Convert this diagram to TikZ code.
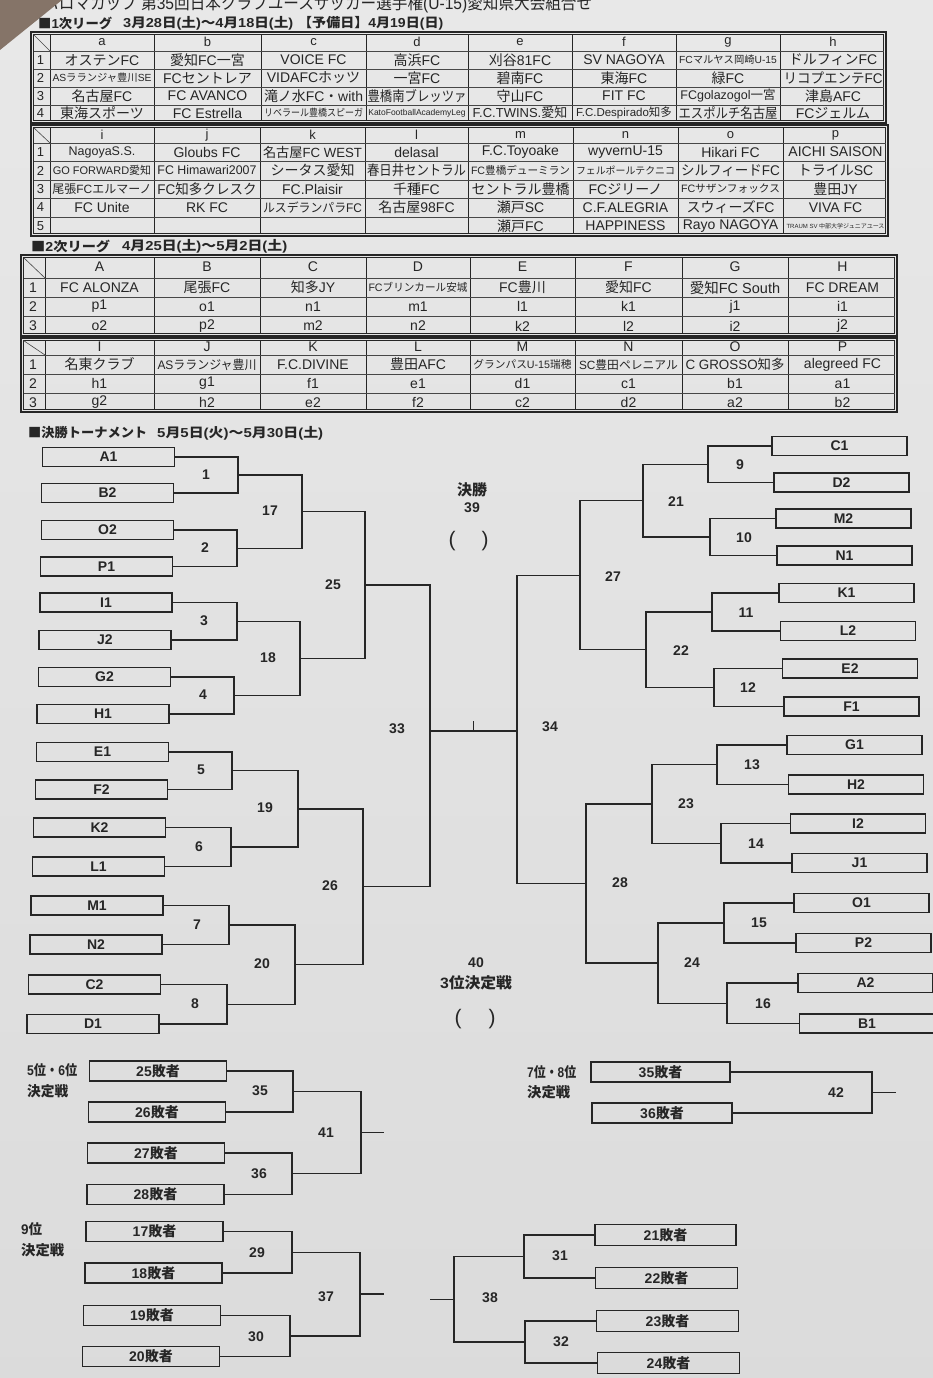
\documentclass[tikz,border=0pt]{standalone}
\usepackage{fontspec}
\usepackage{graphicx}
\setmainfont{Liberation Sans}
\newfontfamily\cjkfont{Noto Sans CJK JP}
\newfontfamily\latinfont{Liberation Sans}
\XeTeXinterchartokenstate=1
\newXeTeXintercharclass\cjkclass
\newcount\cjkcnt
\cjkcnt="3000
\loop
  \XeTeXcharclass\cjkcnt=\cjkclass
  \advance\cjkcnt by 1
\ifnum\cjkcnt<"A000 \repeat
\cjkcnt="FF00
\loop
  \XeTeXcharclass\cjkcnt=\cjkclass
  \advance\cjkcnt by 1
\ifnum\cjkcnt<"FFF0 \repeat
\XeTeXcharclass"25A0=\cjkclass
\XeTeXinterchartoks 0 \cjkclass={\cjkfont}
\XeTeXinterchartoks 4095 \cjkclass={\cjkfont}
\XeTeXinterchartoks \cjkclass 0={\latinfont}
\XeTeXinterchartoks \cjkclass 4095={\latinfont}
\newsavebox\fitsb
\newcommand\fitmax[2]{\sbox\fitsb{#2}\ifdim\wd\fitsb>#1\relax\resizebox{#1}{\ht\fitsb}{\usebox\fitsb}\else\usebox\fitsb\fi}
\newcommand\fitexact[2]{\sbox\fitsb{#2}\resizebox{#1}{\ht\fitsb}{\usebox\fitsb}}
\newcommand\myfs[1]{\fontsize{#1}{#1}\selectfont}
\newcommand\tcell[5][14]{\node[ct] (#2) at (#3,#4) {\myfs{#1}\fitmax{99pt}{#5}};}
\definecolor{ink}{HTML}{262626}
\definecolor{wood}{HTML}{857468}
\begin{document}
\begin{tikzpicture}[x=1pt,y=-1pt,
 ct/.style={inner sep=0pt, text=ink, anchor=center},
 tout/.style={draw=ink, line width=1.3pt},
 tinn/.style={draw=ink, line width=0.6pt},
 tcol/.style={draw=ink, line width=1pt},
 trow/.style={draw=ink!85, line width=0.6pt},
 tmbox/.style={draw=ink, line width=1.5pt, minimum width=132pt, minimum height=19pt, inner sep=0pt, text=ink, font=\myfs{14}\bfseries},
 rtbox/.style={tmbox, minimum width=135pt},
 lsbox/.style={tmbox, minimum width=137pt, minimum height=20pt},
 bl/.style={draw=ink, line width=1.3pt},
 num/.style={inner sep=0pt, text=ink, font=\myfs{14}\bfseries},
 lab/.style={inner sep=0pt, text=ink, font=\myfs{14}\bfseries},
 hd/.style={inner sep=0pt, text=ink, font=\myfs{13}\bfseries, anchor=west},
]
\useasboundingbox (0,0) rectangle (933,1378);
\shade[top color=black!9, bottom color=black!14] (0,0) rectangle (933,1378);

% title and headings
\node[inner sep=0pt, anchor=base west, text=ink] (title) at (43,10) {\myfs{17}\fitexact{549pt}{パロマカップ 第35回日本クラブユースサッカー選手権(U-15)愛知県大会組合せ}};
\fill[wood] (0,0) -- (62,0) -- (0,50) -- cycle;
\node[hd] (h1a) at (38,23) {\fitexact{74pt}{■1次リーグ}};
\node[hd] (h1b) at (123,23) {\fitexact{170pt}{3月28日(土)～4月18日(土)}};
\node[hd] (h1c) at (298,23) {\fitexact{145pt}{【予備日】4月19日(日)}};
\node[hd] (h2a) at (31,246) {\fitexact{79pt}{■2次リーグ}};
\node[hd] (h2b) at (122,246) {\fitexact{165pt}{4月25日(土)～5月2日(土)}};
\node[hd] (h3a) at (28,433) {\fitexact{119pt}{■決勝トーナメント}};
\node[hd] (h3b) at (157,433) {\fitexact{166pt}{5月5日(火)～5月30日(土)}};

% ===== table 1, part 1 =====
\draw[tout] (31,32) rectangle (886,123);
\draw[tinn] (33.5,34.5) rectangle (883.5,120.5);
\foreach \x in {50,154,261,366,468,572,676,780} \draw[tcol] (\x,34.5) -- (\x,120.5);
\foreach \y in {51,69,87,105} \draw[trow] (33.5,\y) -- (883.5,\y);
\draw[trow] (33.5,34.5) -- (50,51);
% ===== table 1, part 2 =====
\draw[tout] (31,125) rectangle (888,236);
\draw[tinn] (33.5,127.5) rectangle (885.5,233.5);
\foreach \x in {50,154,260,365,468,573,678,783} \draw[tcol] (\x,127.5) -- (\x,233.5);
\foreach \y in {143,161.5,180,198.5,217} \draw[trow] (33.5,\y) -- (885.5,\y);
\draw[trow] (33.5,127.5) -- (50,143);
% ===== table 2 =====
\draw[tout] (21,255) rectangle (897,336);
\draw[tinn] (23.5,257.5) rectangle (894.5,333.5);
\foreach \x in {45,154,260,366,470,575,682,788} \draw[tcol] (\x,257.5) -- (\x,333.5);
\foreach \y in {278,297,316} \draw[trow] (23.5,\y) -- (894.5,\y);
\draw[trow] (23.5,257.5) -- (45,278);
\draw[tout] (21,338) rectangle (897,412);
\draw[tinn] (23.5,340.5) rectangle (894.5,409.5);
\foreach \x in {45,154,260,366,470,575,682,788} \draw[tcol] (\x,340.5) -- (\x,409.5);
\foreach \y in {355,374,393} \draw[trow] (23.5,\y) -- (894.5,\y);
\draw[trow] (23.5,340.5) -- (45,355);

% table 1 part 1 texts
\tcell[13]{h1ha}{102}{42}{a}\tcell[13]{h1hb}{207.5}{42}{b}\tcell[13]{h1hc}{313.5}{42}{c}\tcell[13]{h1hd}{417}{42}{d}
\tcell[13]{h1he}{520}{42}{e}\tcell[13]{h1hf}{624}{42}{f}\tcell[13]{h1hg}{728}{42}{g}\tcell[13]{h1hh}{833}{42}{h}
\tcell[13]{r1n1}{40.5}{60}{1}\tcell[13]{r1n2}{40.5}{78}{2}\tcell[13]{r1n3}{40.5}{96}{3}\tcell[13]{r1n4}{40.5}{113}{4}
\tcell{a1}{102}{60}{オステンFC}
\tcell[10.3]{a2}{102}{78}{ASラランジャ豊川SE}
\tcell{a3}{102}{96}{名古屋FC}
\tcell{a4}{102}{113}{東海スポーツ}
\tcell{b1}{207.5}{60}{愛知FC一宮}
\tcell{b2}{207.5}{78}{FCセントレア}
\tcell{b3}{207.5}{96}{FC AVANCO}
\tcell{b4}{207.5}{113}{FC Estrella}
\tcell{c1}{313.5}{60}{VOICE FC}
\tcell{c2}{313.5}{78}{VIDAFCホッツ}
\tcell{c3}{313.5}{96}{滝ノ水FC・with}
\tcell[10]{c4}{313.5}{113}{リベラール豊橋スピーガ}
\tcell{d1}{417}{60}{高浜FC}
\tcell{d2}{417}{78}{一宮FC}
\tcell{d3}{417}{96}{豊橋南ブレッツァ}
\tcell[8.5]{d4}{417}{113}{KatoFootballAcademyLeg}
\tcell{e1}{520}{60}{刈谷81FC}
\tcell{e2}{520}{78}{碧南FC}
\tcell{e3}{520}{96}{守山FC}
\tcell[13]{e4}{520}{113}{F.C.TWINS.愛知}
\tcell{f1}{624}{60}{SV NAGOYA}
\tcell{f2}{624}{78}{東海FC}
\tcell{f3}{624}{96}{FIT FC}
\tcell[11.5]{f4}{624}{113}{F.C.Despirado知多}
\tcell[10.3]{g1}{728}{60}{FCマルヤス岡崎U-15}
\tcell{g2}{728}{78}{緑FC}
\tcell[12.5]{g3}{728}{96}{FCgolazogol一宮}
\tcell{g4}{728}{113}{エスポルチ名古屋}
\tcell{h1}{833}{60}{ドルフィンFC}
\tcell{h2}{833}{78}{リコプエンテFC}
\tcell{h3}{833}{96}{津島AFC}
\tcell{h4}{833}{113}{FCジェルム}

% table 1 part 2 texts
\tcell[13]{h1hi}{102}{135}{i}\tcell[13]{h1hj}{207}{135}{j}\tcell[13]{h1hk}{312.5}{135}{k}\tcell[13]{h1hl}{416.5}{135}{l}
\tcell[13]{h1hm}{520.5}{135}{m}\tcell[13]{h1hn}{625.5}{135}{n}\tcell[13]{h1ho}{730.5}{135}{o}\tcell[13]{h1hp}{835.5}{135}{p}
\tcell[13]{r2n1}{40.5}{152}{1}\tcell[13]{r2n2}{40.5}{170.5}{2}\tcell[13]{r2n3}{40.5}{189}{3}\tcell[13]{r2n4}{40.5}{207.5}{4}\tcell[13]{r2n5}{40.5}{226}{5}
\tcell[12.5]{i1}{102}{152}{NagoyaS.S.}
\tcell[11]{i2}{102}{170.5}{GO FORWARD愛知}
\tcell[12]{i3}{102}{189}{尾張FCエルマーノ}
\tcell{i4}{102}{207.5}{FC Unite}
\tcell{j1}{207}{152}{Gloubs FC}
\tcell[12.5]{j2}{207}{170.5}{FC Himawari2007}
\tcell{j3}{207}{189}{FC知多クレスク}
\tcell{j4}{207}{207.5}{RK FC}
\tcell[13.3]{k1}{312.5}{152}{名古屋FC WEST}
\tcell{k2}{312.5}{170.5}{シータス愛知}
\tcell{k3}{312.5}{189}{FC.Plaisir}
\tcell[12.5]{k4}{312.5}{207.5}{ルスデランパラFC}
\tcell{l1}{416.5}{152}{delasal}
\tcell{l2}{416.5}{170.5}{春日井セントラル}
\tcell{l3}{416.5}{189}{千種FC}
\tcell{l4}{416.5}{207.5}{名古屋98FC}
\tcell{m1}{520.5}{152}{F.C.Toyoake}
\tcell[10.7]{m2}{520.5}{170.5}{FC豊橋デューミラン}
\tcell{m3}{520.5}{189}{セントラル豊橋}
\tcell{m4}{520.5}{207.5}{瀬戸SC}
\tcell{m5}{520.5}{226}{瀬戸FC}
\tcell{n1}{625.5}{152}{wyvernU-15}
\tcell[10]{n2}{625.5}{170.5}{フェルポールテクニコ}
\tcell{n3}{625.5}{189}{FCジリーノ}
\tcell{n4}{625.5}{207.5}{C.F.ALEGRIA}
\tcell{n5}{625.5}{226}{HAPPINESS}
\tcell{o1}{730.5}{152}{Hikari FC}
\tcell{o2}{730.5}{170.5}{シルフィードFC}
\tcell[10.7]{o3}{730.5}{189}{FCサザンフォックス}
\tcell{o4}{730.5}{207.5}{スウィーズFC}
\tcell{o5}{730.5}{226}{Rayo NAGOYA}
\tcell{p1}{835.5}{152}{AICHI SAISON}
\tcell{p2}{835.5}{170.5}{トライルSC}
\tcell{p3}{835.5}{189}{豊田JY}
\tcell{p4}{835.5}{207.5}{VIVA FC}
\tcell[6]{p5}{835.5}{226}{TRAUM SV 中部大学ジュニアユース}

% table 2 texts
\tcell{HA}{99.5}{266.5}{A}\tcell{HB}{207}{266.5}{B}\tcell{HC}{313}{266.5}{C}\tcell{HD}{418}{266.5}{D}
\tcell{HE}{522.5}{266.5}{E}\tcell{HF}{628.5}{266.5}{F}\tcell{HG}{735}{266.5}{G}\tcell{HH}{842.5}{266.5}{H}
\tcell{HI}{99.5}{346.5}{I}\tcell{HJ}{207}{346.5}{J}\tcell{HK}{313}{346.5}{K}\tcell{HL}{418}{346.5}{L}
\tcell{HM}{522.5}{346.5}{M}\tcell{HN}{628.5}{346.5}{N}\tcell{HO}{735}{346.5}{O}\tcell{HP}{842.5}{346.5}{P}
\tcell{s1n1}{33}{287.5}{1}\tcell{s1n2}{33}{306.5}{2}\tcell{s1n3}{33}{326}{3}
\tcell{s2n1}{33}{364.5}{1}\tcell{s2n2}{33}{383.5}{2}\tcell{s2n3}{33}{402.5}{3}
\tcell{A1t}{99.5}{287.5}{FC ALONZA}\tcell{A2t}{99.5}{306.5}{p1}\tcell{A3t}{99.5}{326}{o2}
\tcell{B1t}{207}{287.5}{尾張FC}\tcell{B2t}{207}{306.5}{o1}\tcell{B3t}{207}{326}{p2}
\tcell{C1t}{313}{287.5}{知多JY}\tcell{C2t}{313}{306.5}{n1}\tcell{C3t}{313}{326}{m2}
\tcell[10.8]{D1t}{418}{287.5}{FCブリンカール安城}\tcell{D2t}{418}{306.5}{m1}\tcell{D3t}{418}{326}{n2}
\tcell{E1t}{522.5}{287.5}{FC豊川}\tcell{E2t}{522.5}{306.5}{l1}\tcell{E3t}{522.5}{326}{k2}
\tcell{F1t}{628.5}{287.5}{愛知FC}\tcell{F2t}{628.5}{306.5}{k1}\tcell{F3t}{628.5}{326}{l2}
\tcell[14.5]{G1t}{735}{287.5}{愛知FC South}\tcell{G2t}{735}{306.5}{j1}\tcell{G3t}{735}{326}{i2}
\tcell{H1t}{842.5}{287.5}{FC DREAM}\tcell{H2t}{842.5}{306.5}{i1}\tcell{H3t}{842.5}{326}{j2}
\tcell{I1t}{99.5}{364.5}{名東クラブ}\tcell{I2t}{99.5}{383.5}{h1}\tcell{I3t}{99.5}{402.5}{g2}
\tcell[12.4]{J1t}{207}{364.5}{ASラランジャ豊川}\tcell{J2t}{207}{383.5}{g1}\tcell{J3t}{207}{402.5}{h2}
\tcell{K1t}{313}{364.5}{F.C.DIVINE}\tcell{K2t}{313}{383.5}{f1}\tcell{K3t}{313}{402.5}{e2}
\tcell{L1t}{418}{364.5}{豊田AFC}\tcell{L2t}{418}{383.5}{e1}\tcell{L3t}{418}{402.5}{f2}
\tcell[10.7]{M1t}{522.5}{364.5}{グランパスU-15瑞穂}\tcell{M2t}{522.5}{383.5}{d1}\tcell{M3t}{522.5}{402.5}{c2}
\tcell[11.9]{N1t}{628.5}{364.5}{SC豊田ペレニアル}\tcell{N2t}{628.5}{383.5}{c1}\tcell{N3t}{628.5}{402.5}{d2}
\tcell[13.5]{O1t}{735}{364.5}{C GROSSO知多}\tcell{O2t}{735}{383.5}{b1}\tcell{O3t}{735}{402.5}{a2}
\tcell{P1t}{842.5}{364.5}{alegreed FC}\tcell{P2t}{842.5}{383.5}{a1}\tcell{P3t}{842.5}{402.5}{b2}

% ===== final tournament: team boxes =====
\node[tmbox] (A1) at (108.5,457) {A1};
\node[tmbox] (B2) at (107.5,493) {B2};
\node[tmbox] (O2) at (107.5,530) {O2};
\node[tmbox] (P1) at (106.5,566.5) {P1};
\node[tmbox] (I1) at (106,602.5) {I1};
\node[tmbox] (J2) at (105,640) {J2};
\node[tmbox] (G2) at (104.5,677) {G2};
\node[tmbox] (H1) at (103,714) {H1};
\node[tmbox] (E1) at (102.5,752) {E1};
\node[tmbox] (F2) at (101.5,789.5) {F2};
\node[tmbox] (K2) at (99.5,827.5) {K2};
\node[tmbox] (L1) at (98.5,866.5) {L1};
\node[tmbox] (M1) at (97,905.5) {M1};
\node[tmbox] (N2) at (96,944.5) {N2};
\node[tmbox] (C2) at (94.5,984.5) {C2};
\node[tmbox] (D1) at (93,1024) {D1};
\node[rtbox] (C1) at (839.5,446) {C1};
\node[rtbox] (D2) at (841.5,482.5) {D2};
\node[rtbox] (M2) at (843.5,518.5) {M2};
\node[rtbox] (N1) at (844.5,555.5) {N1};
\node[rtbox] (K1) at (846.5,593) {K1};
\node[rtbox] (L2) at (848,631) {L2};
\node[rtbox] (E2) at (850,668.5) {E2};
\node[rtbox] (F1) at (851.5,706.5) {F1};
\node[rtbox] (G1) at (854.5,745) {G1};
\node[rtbox] (H2) at (856,784.5) {H2};
\node[rtbox] (I2) at (858,823.5) {I2};
\node[rtbox] (J1) at (859.5,863) {J1};
\node[rtbox] (O1) at (861.5,903) {O1};
\node[rtbox] (P2) at (863.5,943) {P2};
\node[rtbox] (A2) at (865.5,983) {A2};
\node[rtbox] (B1) at (867,1023.5) {B1};

% junctions
\coordinate (m1) at (238,475);   \coordinate (m2) at (237,548.25);
\coordinate (m3) at (237,621.25); \coordinate (m4) at (234,695.5);
\coordinate (m5) at (232,770.75); \coordinate (m6) at (231,847);
\coordinate (m7) at (229,925);   \coordinate (m8) at (227,1004.25);
\coordinate (m17) at (302,511.6); \coordinate (m18) at (300,658.4);
\coordinate (m19) at (298,808.9); \coordinate (m20) at (295,964.6);
\coordinate (m25) at (365,585);  \coordinate (m26) at (363,886.7);
\coordinate (m33) at (430,731);
\coordinate (m9) at (708,464.25);  \coordinate (m10) at (710,537);
\coordinate (m11) at (712,612);    \coordinate (m12) at (714,687.5);
\coordinate (m13) at (717,764.75); \coordinate (m14) at (721,843.25);
\coordinate (m15) at (724,923);    \coordinate (m16) at (727,1003.25);
\coordinate (m21) at (643,500.6);  \coordinate (m22) at (646,649.75);
\coordinate (m23) at (652,804);    \coordinate (m24) at (658,963.1);
\coordinate (m27) at (580,575.2);  \coordinate (m28) at (586,883.6);
\coordinate (m34) at (517,731);
\coordinate (tk) at (473.5,721);

% left bracket
\draw[bl] (A1.east) -| (m1) |- (B2.east);
\draw[bl] (O2.east) -| (m2) |- (P1.east);
\draw[bl] (I1.east) -| (m3) |- (J2.east);
\draw[bl] (G2.east) -| (m4) |- (H1.east);
\draw[bl] (E1.east) -| (m5) |- (F2.east);
\draw[bl] (K2.east) -| (m6) |- (L1.east);
\draw[bl] (M1.east) -| (m7) |- (N2.east);
\draw[bl] (C2.east) -| (m8) |- (D1.east);
\draw[bl] (m1) -| (m17) |- (m2);
\draw[bl] (m3) -| (m18) |- (m4);
\draw[bl] (m5) -| (m19) |- (m6);
\draw[bl] (m7) -| (m20) |- (m8);
\draw[bl] (m17) -| (m25) |- (m18);
\draw[bl] (m19) -| (m26) |- (m20);
\draw[bl] (m25) -| (m33) |- (m26);
% right bracket
\draw[bl] (C1.west) -| (m9) |- (D2.west);
\draw[bl] (M2.west) -| (m10) |- (N1.west);
\draw[bl] (K1.west) -| (m11) |- (L2.west);
\draw[bl] (E2.west) -| (m12) |- (F1.west);
\draw[bl] (G1.west) -| (m13) |- (H2.west);
\draw[bl] (I2.west) -| (m14) |- (J1.west);
\draw[bl] (O1.west) -| (m15) |- (P2.west);
\draw[bl] (A2.west) -| (m16) |- (B1.west);
\draw[bl] (m9) -| (m21) |- (m10);
\draw[bl] (m11) -| (m22) |- (m12);
\draw[bl] (m13) -| (m23) |- (m14);
\draw[bl] (m15) -| (m24) |- (m16);
\draw[bl] (m21) -| (m27) |- (m22);
\draw[bl] (m23) -| (m28) |- (m24);
\draw[bl] (m27) -| (m34) |- (m28);
% final
\draw[bl] (m33) -- (m34);
\draw[bl] (tk) -- (tk |- m33);

% match numbers
\node[num] (n1) at (206,475) {1};
\node[num] (n2) at (205,548) {2};
\node[num] (n3) at (204,621) {3};
\node[num] (n4) at (203,695) {4};
\node[num] (n5) at (201,770) {5};
\node[num] (n6) at (199,847) {6};
\node[num] (n7) at (197,925) {7};
\node[num] (n8) at (195,1004) {8};
\node[num] (n17) at (270,511) {17};
\node[num] (n18) at (268,658) {18};
\node[num] (n19) at (265,808) {19};
\node[num] (n20) at (262,964) {20};
\node[num] (n25) at (333,585) {25};
\node[num] (n26) at (330,886) {26};
\node[num] (n33) at (397,729) {33};
\node[num] (n9) at (740,465) {9};
\node[num] (n10) at (744,538) {10};
\node[num] (n11) at (746,613) {11};
\node[num] (n12) at (748,688) {12};
\node[num] (n13) at (752,765) {13};
\node[num] (n14) at (756,844) {14};
\node[num] (n15) at (759,923) {15};
\node[num] (n16) at (763,1004) {16};
\node[num] (n21) at (676,502) {21};
\node[num] (n22) at (681,651) {22};
\node[num] (n23) at (686,804) {23};
\node[num] (n24) at (692,963) {24};
\node[num] (n27) at (613,577) {27};
\node[num] (n28) at (620,883) {28};
\node[num] (n34) at (550,727) {34};

% final / third place labels
\node[lab] (fin) at (472,490) {\myfs{15}決勝};
\node[num] (n39) at (472,508) {39};
\node[inner sep=0pt, text=ink] (lp1) at (452,541) {\myfs{21}(};
\node[inner sep=0pt, text=ink] (rp1) at (485,541) {\myfs{21})};
\node[num] (n40) at (476,963) {40};
\node[lab] (third) at (476,983) {\fitexact{72pt}{\myfs{15}3位決定戦}};
\node[inner sep=0pt, text=ink] (lp2) at (458,1019) {\myfs{21}(};
\node[inner sep=0pt, text=ink] (rp2) at (492,1019) {\myfs{21})};

% ===== placement matches =====
\node[lab, anchor=west] (p56a) at (27,1070) {\fitexact{50pt}{5位・6位}};
\node[lab, anchor=west] (p56b) at (27,1091) {\fitexact{41pt}{決定戦}};
\node[lab, anchor=west] (p78a) at (527,1072) {\fitexact{49pt}{7位・8位}};
\node[lab, anchor=west] (p78b) at (527,1092) {\fitexact{43pt}{決定戦}};
\node[lab, anchor=west] (p9a) at (21,1229) {\fitexact{21pt}{9位}};
\node[lab, anchor=west] (p9b) at (21,1250) {\fitexact{43pt}{決定戦}};

\node[lsbox] (L25) at (158,1071) {25敗者};
\node[lsbox] (L26) at (157,1112) {26敗者};
\node[lsbox] (L27) at (156,1153) {27敗者};
\node[lsbox] (L28) at (155.5,1194.5) {28敗者};
\node[lsbox, minimum width=139pt] (L35) at (660.5,1072) {35敗者};
\node[lsbox, minimum width=140pt] (L36) at (662,1113) {36敗者};
\node[lsbox] (L17) at (154.5,1231.5) {17敗者};
\node[lsbox] (L18) at (153.5,1273) {18敗者};
\node[lsbox] (L19) at (152,1315.5) {19敗者};
\node[lsbox] (L20) at (151,1356.5) {20敗者};
\node[lsbox, minimum width=141pt, minimum height=21pt] (L21) at (665.5,1235) {21敗者};
\node[lsbox, minimum width=142pt, minimum height=21pt] (L22) at (666.5,1278) {22敗者};
\node[lsbox, minimum width=142pt, minimum height=21pt] (L23) at (667.5,1321) {23敗者};
\node[lsbox, minimum width=142pt, minimum height=21pt] (L24) at (668.5,1363) {24敗者};

\coordinate (j35) at (293,1091.5); \coordinate (j36) at (292,1173.75);
\coordinate (j41) at (361,1132.6); \coordinate (e41) at (384,1132.6);
\coordinate (j42) at (872,1092.5); \coordinate (e42) at (896,1092.5);
\coordinate (j29) at (292,1252.25); \coordinate (j30) at (290,1336);
\coordinate (j37) at (360,1294.1); \coordinate (e37) at (384,1294.1);
\coordinate (j31) at (524,1256.5); \coordinate (j32) at (525,1342);
\coordinate (j38) at (454,1299.25); \coordinate (e38) at (430,1299.25);

\draw[bl] (L25.east) -| (j35) |- (L26.east);
\draw[bl] (L27.east) -| (j36) |- (L28.east);
\draw[bl] (j35) -| (j41) |- (j36);
\draw[bl] (j41) -- (e41);
\draw[bl] (L35.east) -| (j42) |- (L36.east);
\draw[bl] (j42) -- (e42);
\draw[bl] (L17.east) -| (j29) |- (L18.east);
\draw[bl] (L19.east) -| (j30) |- (L20.east);
\draw[bl] (j29) -| (j37) |- (j30);
\draw[bl] (j37) -- (e37);
\draw[bl] (L21.west) -| (j31) |- (L22.west);
\draw[bl] (L23.west) -| (j32) |- (L24.west);
\draw[bl] (j31) -| (j38) |- (j32);
\draw[bl] (j38) -- (e38);

\node[num] (n35) at (260,1091) {35};
\node[num] (n36) at (259,1174) {36};
\node[num] (n41) at (326,1133) {41};
\node[num] (n42) at (836,1093) {42};
\node[num] (n29) at (257,1253) {29};
\node[num] (n30) at (256,1337) {30};
\node[num] (n37) at (326,1297) {37};
\node[num] (n31) at (560,1256) {31};
\node[num] (n32) at (561,1342) {32};
\node[num] (n38) at (490,1298) {38};
\end{tikzpicture}
\end{document}
